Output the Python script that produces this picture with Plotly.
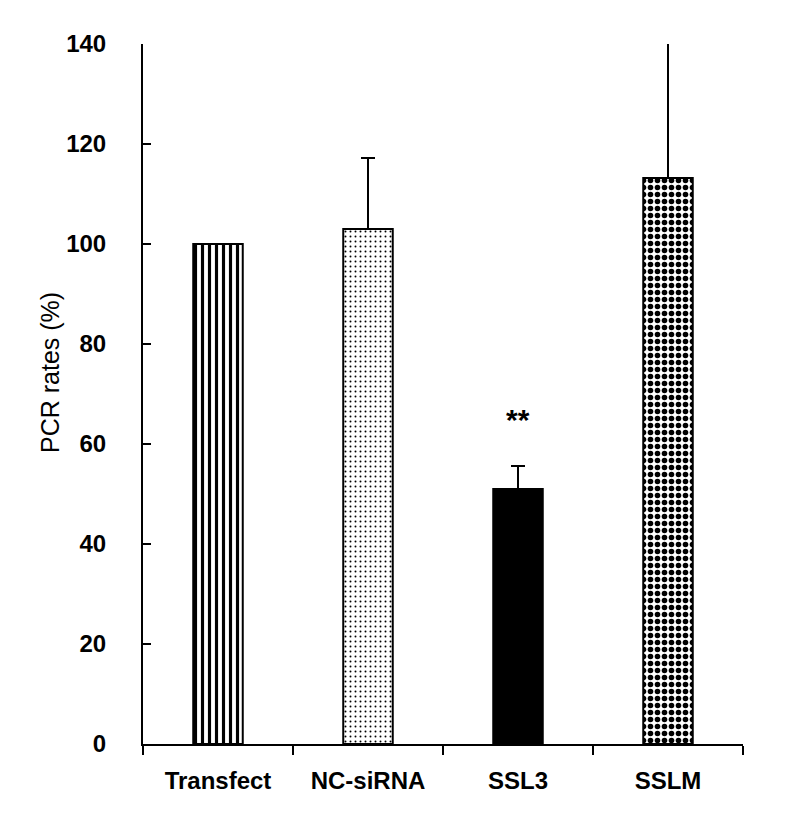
import plotly.graph_objects as go

categories = ["Transfect", "NC-siRNA", "SSL3", "SSLM"]
values = [100, 103, 51, 113.2]
errors = [0, 14.2, 4.6, 27]
y_ticks = [0, 20, 40, 60, 80, 100, 120, 140]

patterns = [
    dict(shape="|", size=7, solidity=0.45, fgcolor="black", bgcolor="white", fgopacity=1, fillmode="overlay"),
    dict(shape=".", size=5, solidity=0.12, fgcolor="black", bgcolor="white", fgopacity=1, fillmode="overlay"),
    dict(shape="", fgcolor="black", bgcolor="black"),
    dict(shape=".", size=7, solidity=0.5, fgcolor="black", bgcolor="white", fgopacity=1, fillmode="overlay"),
]

fig = go.Figure()
for i, c in enumerate(categories):
    fig.add_trace(go.Bar(
        x=[c], y=[values[i]],
        marker=dict(color="black" if i == 2 else "white",
                    line=dict(color="black", width=2),
                    pattern=patterns[i]),
        error_y=dict(type="data", array=[errors[i]], arrayminus=[0], symmetric=False,
                     color="black", thickness=2, width=7, visible=errors[i] > 0),
        width=0.33, showlegend=False,
    ))

fig.add_annotation(x="SSL3", y=65, text="<b>**</b>", showarrow=False,
                   font=dict(size=30, family="Liberation Sans", color="black"))

# y-axis title
fig.add_annotation(xref="paper", yref="paper", x=-0.155, y=0.53,
                   xanchor="center", yanchor="middle", textangle=-90,
                   text="PCR rates (%)", showarrow=False,
                   font=dict(size=25, family="Liberation Sans", color="black"))

fig.update_layout(
    width=800, height=826,
    margin=dict(l=135, r=65, t=36, b=90),
    plot_bgcolor="white", paper_bgcolor="white",
    font=dict(family="Liberation Sans", color="black"),
)
fig.update_xaxes(
    categoryorder="array", categoryarray=categories,
    range=[-0.5, 3.5], automargin=False,
    showline=True, linecolor="black", linewidth=2,
    ticks="outside", tickson="boundaries", ticklen=9, tickwidth=2, tickcolor="black",
    tickfont=dict(size=24, family="Liberation Sans", color="black", weight="bold"),
    ticklabelstandoff=14, showgrid=False, zeroline=False,
)
fig.update_yaxes(
    range=[0, 140], tickvals=y_ticks, ticktext=[str(v) for v in y_ticks],
    automargin=False,
    showline=True, linecolor="black", linewidth=2,
    ticks="inside", ticklen=8, tickwidth=2, tickcolor="black",
    tickfont=dict(size=24, family="Liberation Sans", color="black", weight="bold"),
    ticklabelstandoff=30, showgrid=False, zeroline=False,
)

fig.write_html("out.html")
